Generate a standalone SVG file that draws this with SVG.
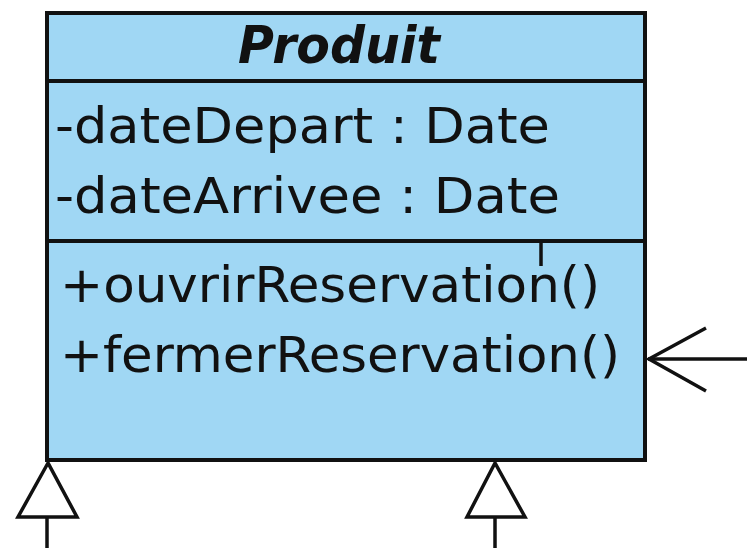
<svg xmlns="http://www.w3.org/2000/svg" width="747" height="548" viewBox="0 0 747 548">
<style>
.box{fill:#A0D7F4;stroke:#111;stroke-width:4}
.sep{stroke:#111;stroke-width:4}
.t{font-family:"DejaVu Sans Condensed","DejaVu Sans",sans-serif;font-size:49px;fill:#111}
.title{font-family:"DejaVu Sans Condensed","DejaVu Sans",sans-serif;font-size:52px;font-weight:bold;font-style:italic;fill:#111}
.ln{stroke:#111;stroke-width:3.5;fill:none}
.tri{stroke:#111;stroke-width:3.5;fill:#fff;stroke-linejoin:miter}
</style>
<rect width="747" height="548" fill="#fff"/>
<g id="Produit">
<rect class="box" x="47" y="13" width="598" height="447"/>
<line class="sep" x1="47" y1="81" x2="645" y2="81"/>
<line class="sep" x1="47" y1="241" x2="645" y2="241"/>
<text class="title" x="238" y="63" textLength="202" lengthAdjust="spacingAndGlyphs">Produit</text>
<text class="t" x="55" y="143" textLength="495" lengthAdjust="spacingAndGlyphs">-dateDepart : Date</text>
<text class="t" x="55" y="213" textLength="505" lengthAdjust="spacingAndGlyphs">-dateArrivee : Date</text>
<text class="t" x="60" y="302" textLength="540" lengthAdjust="spacingAndGlyphs">+ouvrirReservation()</text>
<text class="t" x="60" y="372" textLength="560" lengthAdjust="spacingAndGlyphs">+fermerReservation()</text>
</g>
<g id="connectors">
<line class="ln" x1="541" y1="241" x2="541" y2="266"/>
<line class="ln" x1="648" y1="359" x2="747" y2="359"/>
<polyline class="ln" points="706,328 649,359 706,391"/>
<polygon class="tri" points="48,463 18,517 77,517"/>
<line class="ln" x1="47" y1="517" x2="47" y2="548"/>
<polygon class="tri" points="495,463 467,517 525,517"/>
<line class="ln" x1="495" y1="517" x2="495" y2="548"/>
</g>
</svg>
